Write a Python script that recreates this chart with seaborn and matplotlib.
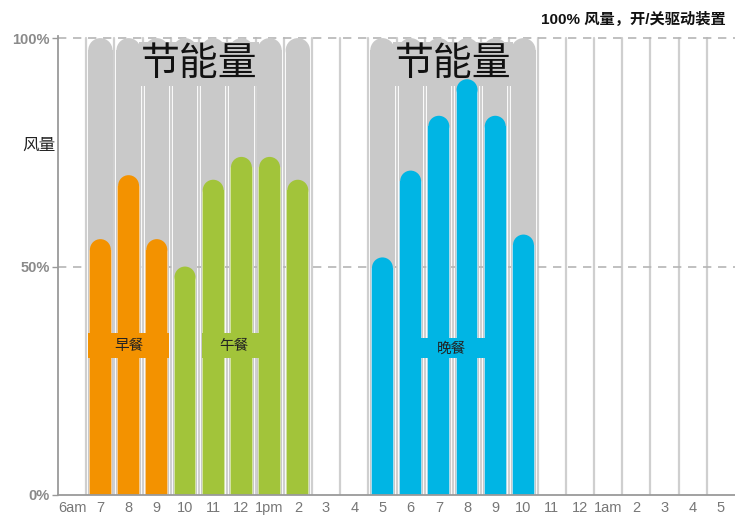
import numpy as np
import pandas as pd
import seaborn as sns
import matplotlib.pyplot as plt
from matplotlib.colors import to_rgba
from matplotlib.patches import Ellipse, Rectangle

# Hour slots shown along the x axis (6am through 5am the next day)
hour_labels = ["6am", "7", "8", "9", "10", "11", "12", "1pm", "2", "3", "4", "5",
               "6", "7", "8", "9", "10", "11", "12", "1am", "2", "3", "4", "5"]

# Airflow (% of full) per meal period, by slot index
breakfast_slots = [1, 2, 3]
breakfast_flow = [56, 70, 56]
lunch_slots = [4, 5, 6, 7, 8]
lunch_flow = [50, 69, 74, 74, 69]
dinner_slots = [11, 12, 13, 14, 15, 16]
dinner_flow = [52, 71, 83, 91, 83, 57]

# Fixed-speed baseline: 100% airflow whenever the hood is on
full_flow = 100

meal_names = ["早餐", "午餐", "晚餐"]
meal_colors = ["#f39200", "#a2c43a", "#00b5e4"]
meal_edges = ["#f8c98a", "#d4e5a0", "#a6def0"]
gray = "#c9c9c9"

sns.set_theme(style="white")
plt.rcParams["font.family"] = ["Liberation Sans", "Noto Sans CJK SC", "DejaVu Sans"]

meal_df = pd.DataFrame({
    "slot": breakfast_slots + lunch_slots + dinner_slots,
    "flow": breakfast_flow + lunch_flow + dinner_flow,
    "meal": [meal_names[0]] * len(breakfast_slots)
            + [meal_names[1]] * len(lunch_slots)
            + [meal_names[2]] * len(dinner_slots),
})
on_slots = breakfast_slots + lunch_slots + dinner_slots
base_df = pd.DataFrame({"slot": on_slots, "flow": [full_flow] * len(on_slots)})

fig = plt.figure(figsize=(7.35, 5.16), dpi=100)
ax = fig.add_axes([0.079, 0.0407, 0.921, 0.889])

order = list(range(len(hour_labels)))
x_right = 23.28
y_top = 100.4

ax.set_xlim(-0.5, x_right)
ax.set_ylim(0, y_top)

# vertical separators between hour slots
for b in np.arange(0.5, x_right, 1.0):
    ax.plot([b, b], [0, 100], color="#cfcfcf", lw=1.6, zorder=0.5)

# dashed reference lines at 50% and 100%
for yv in (50, 100):
    ax.axhline(yv, color="#b5b5b5", lw=1.2, ls=(0, (5, 4)), zorder=0.6)

n_before = len(ax.patches)
sns.barplot(data=base_df, x="slot", y="flow", order=order, color=gray,
            width=0.86, saturation=1, ax=ax, zorder=1)
base_patches = ax.patches[n_before:]

n_before = len(ax.patches)
sns.barplot(data=meal_df, x="slot", y="flow", hue="meal", order=order,
            hue_order=meal_names, palette=meal_colors, dodge=False,
            width=0.74, saturation=1, ax=ax, legend=False, zorder=2)
meal_patches = ax.patches[n_before:]

# data-units-per-pixel ratio, used to give bars round (semicircular) tops
fig.canvas.draw()
p0 = ax.transData.transform((0, 0))
p1 = ax.transData.transform((1, 1))
xy_ratio = (p1[0] - p0[0]) / (p1[1] - p0[1])


def round_top(patch, edge=None, z=1):
    h = patch.get_height()
    if not np.isfinite(h) or h <= 0:
        return
    x = patch.get_x()
    w = patch.get_width()
    ry = (w / 2) * xy_ratio
    fc = patch.get_facecolor()
    patch.set_height(h - ry)
    patch.set_zorder(z)
    patch.set_edgecolor("none")
    patch.set_linewidth(0)
    cap = Ellipse((x + w / 2, h - ry), w, 2 * ry, facecolor=fc,
                  edgecolor="none", zorder=z)
    ax.add_patch(cap)
    if edge is not None:
        # soft light rim along both sides of the bar
        for xe in (x, x + w):
            ax.plot([xe, xe], [0, h - ry], color=edge, lw=1.3,
                    zorder=z - 0.05, solid_capstyle="butt")


for p in base_patches:
    round_top(p, z=1)

edge_map = {tuple(np.round(to_rgba(c), 3)): e
            for c, e in zip(meal_colors, meal_edges)}
for p in meal_patches:
    key = tuple(np.round(p.get_facecolor(), 3))
    round_top(p, edge=edge_map.get(key), z=2)

# meal period captions on colored bands
caption_centers = [2.0, 5.95, 13.45]
caption_widths = [2.85, 2.7, 3.5]
caption_y = [29.9, 29.9, 29.9]
caption_h = [5.6, 5.6, 4.4]
for name, col, cx, cw, cy, chh in zip(meal_names, meal_colors, caption_centers,
                                      caption_widths, caption_y, caption_h):
    ax.add_patch(Rectangle((cx - cw / 2, cy), cw, chh, facecolor=col,
                           edgecolor="none", zorder=3))
    ax.text(cx if name != "午餐" else 5.75, cy + chh / 2, name, ha="center",
            va="center", fontsize=10.5, color="#222222", zorder=4,
            family=["Noto Sans CJK SC", "DejaVu Sans"])

# "energy saved" headers over the gray baseline bars
for cx in (4.5, 13.5):
    ax.text(cx, 94.3, "节能量", ha="center", va="center", fontsize=28,
            color="#111111", zorder=1.5,
            family=["Noto Sans CJK SC", "DejaVu Sans"],
            bbox=dict(boxstyle="square,pad=0.05", facecolor=gray,
                      edgecolor="none"))

ax.set_xticks(order)
ax.set_xticklabels(hour_labels, fontsize=10.5, color="#777777")
ax.set_yticks([0, 50, 100])
ax.set_yticklabels(["0%", "50%", "100%"], fontsize=10.5, color="#8a8a8a",
                   fontweight="bold")
ax.tick_params(axis="x", length=0, pad=4)
ax.tick_params(axis="y", length=4, width=1, color="#999999", pad=2,
               direction="out", left=True)
ax.set_xlabel("")
ax.set_ylabel("")

for side in ("top", "right"):
    ax.spines[side].set_visible(False)
for side in ("left", "bottom"):
    ax.spines[side].set_color("#9a9a9a")
    ax.spines[side].set_linewidth(1.3)
    ax.spines[side].set_zorder(6)

fig.text(0.03, 0.718, "风量", fontsize=12, color="#222222", ha="left", va="center",
         family=["Noto Sans CJK SC", "DejaVu Sans"])
fig.text(0.988, 0.963, "100% 风量，开/关驱动装置", fontsize=11, fontweight="bold",
         color="#111111", ha="right", va="center",
         family=["Liberation Sans", "Noto Sans CJK SC", "DejaVu Sans"])

fig.savefig("out.png", dpi=100)
